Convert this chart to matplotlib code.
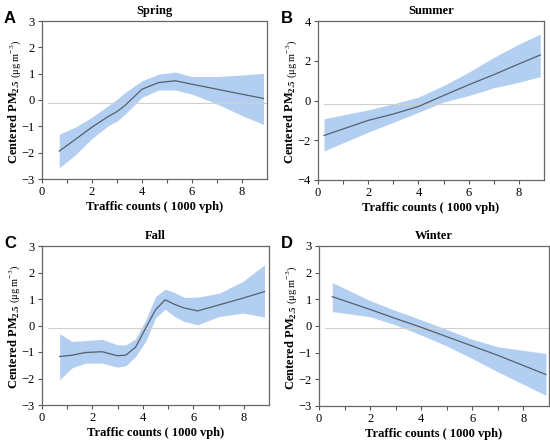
import numpy as np
import matplotlib
matplotlib.use("Agg")
import matplotlib.pyplot as plt

plt.rcParams['font.family'] = ['Liberation Serif', 'DejaVu Serif']
plt.rcParams['mathtext.fontset'] = 'custom'
plt.rcParams['mathtext.rm'] = 'Liberation Serif'
plt.rcParams['mathtext.bf'] = 'Liberation Serif:bold'

# Spring
spring_x = [0.69, 1.33, 2.0, 2.66, 3.0, 3.33, 4.0, 4.66, 5.33, 6.0, 7.0, 8.0, 8.86]
spring_fit = [-1.94, -1.5, -1.03, -0.62, -0.44, -0.2, 0.41, 0.66, 0.73, 0.6, 0.41, 0.22, 0.06]
spring_hi = [-1.3, -1.03, -0.65, -0.21, 0.03, 0.29, 0.73, 0.98, 1.06, 0.89, 0.89, 0.95, 1.01]
spring_lo = [-2.57, -2.09, -1.46, -0.97, -0.8, -0.53, 0.1, 0.38, 0.38, 0.22, -0.15, -0.59, -0.93]

# Summer
summer_x = [0.24, 2.0, 3.0, 4.0, 5.0, 6.0, 7.0, 8.0, 8.85]
summer_fit = [-1.76, -1.0, -0.68, -0.3, 0.25, 0.79, 1.3, 1.84, 2.29]
summer_hi = [-0.92, -0.47, -0.17, 0.17, 0.75, 1.42, 2.17, 2.84, 3.34]
summer_lo = [-2.54, -1.59, -1.1, -0.59, -0.08, 0.25, 0.64, 0.92, 1.2]

# Fall
fall_x = [0.7, 1.19, 1.72, 2.39, 2.98, 3.32, 3.71, 4.11, 4.5, 4.88, 5.25, 5.64, 6.17, 7.03, 7.96, 8.82]
fall_fit = [-1.17, -1.12, -1.02, -0.99, -1.14, -1.12, -0.82, -0.1, 0.59, 0.97, 0.8, 0.66, 0.55, 0.78, 1.03, 1.28]
fall_hi = [-0.31, -0.6, -0.57, -0.52, -0.73, -0.73, -0.5, 0.2, 1.09, 1.37, 1.25, 1.06, 1.07, 1.22, 1.66, 2.29]
fall_lo = [-2.04, -1.6, -1.42, -1.42, -1.57, -1.52, -1.17, -0.6, 0.28, 0.62, 0.34, 0.15, 0.03, 0.34, 0.47, 0.32]

# Winter
winter_x = [0.52, 2.0, 3.0, 4.0, 5.0, 6.0, 7.0, 8.88]
winter_fit = [1.1, 0.62, 0.28, -0.05, -0.4, -0.75, -1.1, -1.82]
winter_hi = [1.63, 0.95, 0.58, 0.23, -0.13, -0.5, -0.78, -1.03]
winter_lo = [0.54, 0.35, 0.04, -0.34, -0.75, -1.22, -1.72, -2.6]

panels = [
    ("A", "Spring", spring_x, spring_fit, spring_hi, spring_lo, (-3, 3), [-3, -2, -1, 0, 1, 2, 3], -0.1),
    ("B", "Summer", summer_x, summer_fit, summer_hi, summer_lo, (-4, 4), [-4, -2, 0, 2, 4], -0.2),
    ("C", "Fall", fall_x, fall_fit, fall_hi, fall_lo, (-3, 3), [-3, -2, -1, 0, 1, 2, 3], -0.1),
    ("D", "Winter", winter_x, winter_fit, winter_hi, winter_lo, (-3, 3), [-3, -2, -1, 0, 1, 2, 3], -0.08),
]

# axes boxes in pixels (left, top, right, bottom)
boxes = [(42, 21, 267, 179), (318, 21, 544, 180), (42, 246, 269, 405), (319, 246, 549, 406)]
letter_pos = [(4, 11), (281, 11), (4, 236), (281, 236)]

W, H = 550, 446
fig = plt.figure(figsize=(W / 100, H / 100), dpi=100)

for (letter, title, x, fit, hi, lo, ylim, yticks, ref), (l, t, r, b), (lx, ly) in zip(panels, boxes, letter_pos):
    ax = fig.add_axes([l / W, 1 - b / H, (r - l) / W, (b - t) / H])
    ax.fill_between(x, lo, hi, color='#b2cef0', lw=0)
    ax.plot([0.25, 9], [ref, ref], color='#cfcfcf', lw=0.8)
    ax.plot(x, fit, color='#55606e', lw=0.9)
    ax.set_xlim(0, 9)
    ax.set_ylim(*ylim)
    ax.set_xticks([0, 2, 4, 6, 8])
    ax.set_xticks([1, 3, 5, 7], minor=True)
    ax.set_yticks(yticks)
    ax.tick_params(which='both', length=3, width=0.8, color='#555555', labelsize=9, pad=2)
    for s in ax.spines.values():
        s.set_color('#666666')
        s.set_linewidth(0.9)
    ax.set_title(title, fontsize=9, fontweight='bold', pad=5)
    ax.set_xlabel("Traffic counts ( 1000 vph)", fontsize=9, fontweight='bold', labelpad=2)
    # y label in two parts: bold name and smaller unit
    ax.text(-0.105, 0.63, r"Centered PM$_{\mathbf{2.5}}$", transform=ax.transAxes, rotation=90,
            rotation_mode='anchor', ha='right', va='baseline', fontsize=9, fontweight='bold')
    ax.text(-0.105, 0.64, r"($\mathrm{\mu}$g m$^{-3}$)", transform=ax.transAxes, rotation=90,
            rotation_mode='anchor', ha='left', va='baseline', fontsize=7.5)
    fig.text(lx / W, 1 - ly / H, letter, fontsize=12, fontweight='bold',
             family='Liberation Sans', ha='left', va='top')

fig.savefig("out.png", dpi=100)
